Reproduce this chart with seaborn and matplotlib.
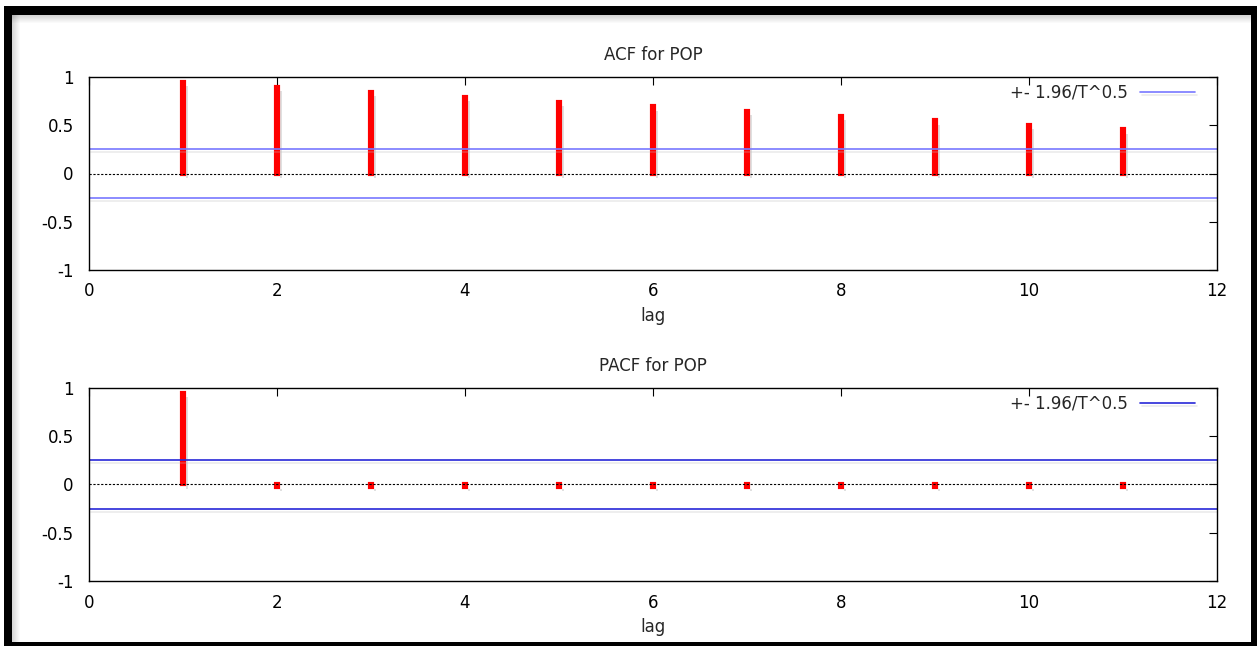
import numpy as np
import pandas as pd
import matplotlib
matplotlib.use('Agg')
import matplotlib.pyplot as plt
import matplotlib.patheffects as pe
from matplotlib.patches import Rectangle
import seaborn as sns

# values
lags = [1, 2, 3, 4, 5, 6, 7, 8, 9, 10, 11]
acf = [0.948, 0.896, 0.844, 0.792, 0.743, 0.696, 0.647, 0.598, 0.55, 0.501, 0.457]
pacf = [0.951, -0.025, -0.025, -0.025, -0.025, -0.025, -0.025, -0.025, -0.025, -0.025, -0.025]
band = 0.255
band_label = '+- 1.96/T^0.5'
titles = ['ACF for POP', 'PACF for POP']

sns.set_style('white')
plt.rcParams['font.family'] = ['DejaVu Sans']

W, H = 1257, 646
fig = plt.figure(figsize=(W / 100, H / 100), dpi=100)

def px_axes(left, top, right, bottom):
    return fig.add_axes([left / W, 1 - bottom / H, (right - left) / W, (bottom - top) / H])

ax1 = px_axes(89, 77, 1217, 270)
ax2 = px_axes(89, 388, 1217, 581)

shadow = [pe.SimplePatchShadow(offset=(3, -3), shadow_rgbFace='0.6', alpha=0.3), pe.Normal()]
lshadow = [pe.SimpleLineShadow(offset=(1.5, -2), shadow_color='0.75', alpha=0.3), pe.Normal()]

panels = [(ax1, acf, '#7878ff'), (ax2, pacf, '#2828d8')]
for i, (ax, vals, bcol) in enumerate(panels):
    df = pd.DataFrame({'lag': lags, 'value': vals})
    # thick red edge mimics gnuplot's wide impulse line with square caps
    sns.barplot(data=df, x='lag', y='value', native_scale=True, width=0.02,
                color='red', saturation=1, edgecolor='red', linewidth=3, ax=ax)
    for p in ax.patches:
        p.set_path_effects(shadow)
    ax.axhline(0, color='black', lw=0.8, ls=(0, (2, 1.5)), zorder=1)
    ax.axhline(band, color=bcol, lw=1.2, label=band_label, zorder=1.5, path_effects=lshadow)
    ax.axhline(-band, color=bcol, lw=1.2, zorder=1.5, path_effects=lshadow)
    ax.set_xlim(0, 12)
    ax.set_ylim(-1, 1)
    ax.set_xticks([0, 2, 4, 6, 8, 10, 12])
    ax.set_yticks([-1, -0.5, 0, 0.5, 1])
    ax.set_yticklabels(['-1', '-0.5', '0', '0.5', '1'])
    ax.tick_params(direction='in', length=6, width=0.8, top=True, right=True,
                   labelsize=12, colors='black')
    ax.tick_params(axis='x', pad=9)
    ax.tick_params(axis='y', pad=11)
    for s in ax.spines.values():
        s.set_visible(True)
        s.set_color('black')
        s.set_linewidth(1.0)
    ax.set_xlabel('lag', fontsize=12, labelpad=5)
    ax.set_ylabel('')
    ax.set_title(titles[i], fontsize=12, pad=12)
    ax.legend(loc='upper right', frameon=False, markerfirst=False, fontsize=12,
              handlelength=3.3, borderaxespad=0, handletextpad=0.72,
              bbox_to_anchor=(0.9864, 1.0))

# black picture frame with soft inner shading
def px_rect(x0, y0, x1, y1, **kw):
    fig.patches.append(Rectangle((x0 / W, 1 - y1 / H), (x1 - x0) / W, (y1 - y0) / H,
                                 transform=fig.transFigure, zorder=10, **kw))

for k in range(8):
    a = 0.16 * (1 - k / 8)
    px_rect(12 + k, 15, 13 + k, 642, color='black', alpha=a, lw=0)
    px_rect(12, 15 + k, 1251, 16 + k, color='black', alpha=a, lw=0)
px_rect(4, 6, 1257, 15, color='black', lw=0)
px_rect(4, 6, 12, 646, color='black', lw=0)
px_rect(1251, 6, 1257, 646, color='black', lw=0)
px_rect(4, 642, 1257, 646, color='black', lw=0)

fig.savefig('out.png', dpi=100, facecolor='white')
